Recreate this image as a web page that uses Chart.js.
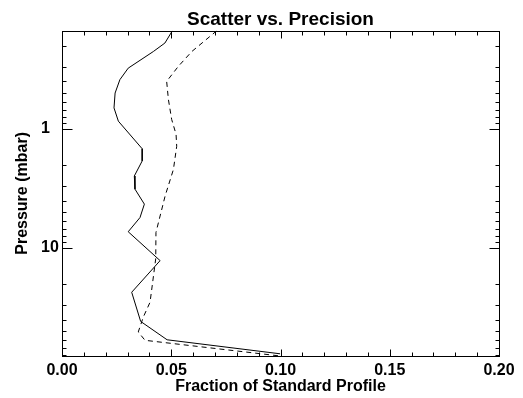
<!DOCTYPE html>
<html>
<head>
<meta charset="utf-8">
<script src="https://cdn.jsdelivr.net/npm/chart.js@4/dist/chart.umd.min.js"></script>
<style>
  html, body { margin: 0; background: #fff; }
  canvas { display: block; }
</style>
</head>
<body>
<canvas id="chart" width="523" height="398"></canvas>
<script>
// values: fraction of standard profile vs pressure (mbar)
const SCATTER_P    = [0.15, 0.19, 0.224, 0.309, 0.386, 0.50, 0.667, 0.862, 1.47, 1.86, 2.49, 3.21, 4.29, 5.56, 7.32, 12.8, 23.6, 41.5, 59.2, 77.6];
const SCATTER_FRAC = [0.0505, 0.0471, 0.0418, 0.0303, 0.0265, 0.0243, 0.0238, 0.0258, 0.0367, 0.0367, 0.0331, 0.0334, 0.0377, 0.0357, 0.0303, 0.0449, 0.0319, 0.0360, 0.0481, 0.0998];

const PRECISION_P    = [0.15, 0.224, 0.299, 0.399, 0.567, 0.834, 1.11, 1.40, 2.19, 3.66, 7.42, 12.3, 28.6, 38.2, 50.9, 59.8, 81];
const PRECISION_FRAC = [0.0708, 0.0594, 0.0532, 0.0479, 0.0487, 0.0502, 0.0522, 0.0525, 0.0510, 0.0472, 0.0430, 0.0429, 0.0403, 0.0372, 0.0349, 0.0380, 0.0998];

// axis ticks
const X_MAJOR = [0, 0.05, 0.10, 0.15, 0.20];
const X_MINOR = [0.01, 0.02, 0.03, 0.04, 0.06, 0.07, 0.08, 0.09, 0.11, 0.12, 0.13, 0.14, 0.16, 0.17, 0.18, 0.19];
const Y_MAJOR = [1, 10];
const Y_MINOR = [0.2, 0.3, 0.4, 0.5, 0.6, 0.7, 0.8, 0.9, 2, 3, 4, 5, 6, 7, 8, 9, 20, 30, 40, 50, 60, 70, 80];

const FONT = "'Liberation Sans', Arial, Helvetica, sans-serif";

function toPoints(xs, ps) { return xs.map((x, i) => ({ x, y: ps[i] })); }

// IDL-style box: closed frame, ticks pointing inward on all four sides
const idlAxes = {
  id: "idlAxes",
  afterLayout(chart) {
    // title centred over the plot box rather than the whole canvas
    const a = chart.chartArea, t = chart.titleBlock;
    t.left = a.left; t.right = a.right; t.width = a.right - a.left;
  },
  afterDatasetsDraw(chart) {
    const { ctx, chartArea: a, scales: { x, y } } = chart;
    const L = Math.round(a.left) + 0.5, R = Math.round(a.right) + 0.5;
    const T = Math.round(a.top) + 0.5, B = Math.round(a.bottom) + 0.5;
    ctx.save();
    ctx.strokeStyle = "#000";
    ctx.lineWidth = 1;
    ctx.strokeRect(L, T, R - L, B - T);
    const seg = (x1, y1, x2, y2) => { ctx.beginPath(); ctx.moveTo(x1, y1); ctx.lineTo(x2, y2); ctx.stroke(); };
    const xt = (vals, len) => vals.forEach((v) => {
      const px = Math.round(x.getPixelForValue(v)) + 0.5;
      seg(px, B, px, B - len); seg(px, T, px, T + len);
    });
    const yt = (vals, len) => vals.forEach((v) => {
      const py = Math.round(y.getPixelForValue(v)) + 0.5;
      seg(L, py, L + len, py); seg(R, py, R - len, py);
    });
    xt(X_MAJOR, 7); xt(X_MINOR, 4);
    yt(Y_MAJOR, 10); yt(Y_MINOR, 4);
    ctx.restore();
  },
};

new Chart(document.getElementById("chart"), {
  type: "scatter",
  data: {
    datasets: [
      { label: "Scatter", data: toPoints(SCATTER_FRAC, SCATTER_P), showLine: true,
        borderColor: "#000", borderWidth: 1, pointRadius: 0, tension: 0 },
      { label: "Precision", data: toPoints(PRECISION_FRAC, PRECISION_P), showLine: true,
        borderColor: "#000", borderWidth: 1, borderDash: [5, 4], pointRadius: 0, tension: 0 },
    ],
  },
  options: {
    responsive: false, animation: false,
    layout: { padding: { left: 0, right: 24, top: 0, bottom: 0 } },
    plugins: {
      legend: { display: false },
      tooltip: { enabled: false },
      title: {
        display: true, text: "Scatter vs. Precision", color: "#000",
        font: { family: FONT, size: 19, weight: "bold", lineHeight: 1.2 },
        padding: { top: 8, bottom: 0 },
      },
    },
    scales: {
      x: {
        type: "linear", position: "bottom", min: 0, max: 0.2,
        grid: { display: false, drawTicks: false, tickLength: 0 }, border: { display: false },
        ticks: { stepSize: 0.05, autoSkip: false, maxRotation: 0, padding: 5,
                 color: "#000", font: { family: FONT, size: 16, weight: "bold" },
                 callback: (v) => v.toFixed(2) },
        title: { display: true, text: "Fraction of Standard Profile", color: "#000",
                 font: { family: FONT, size: 16, weight: "bold", lineHeight: 1.2 },
                 padding: { top: 0, bottom: 1.5 } },
        afterFit: (s) => { s.height = 42; },
      },
      y: {
        type: "logarithmic", position: "left", reverse: true, min: 0.15, max: 81, weight: 0,
        grid: { display: false, drawTicks: false, tickLength: 0 }, border: { display: false },
        ticks: { autoSkip: false, crossAlign: "far", padding: 0,
                 color: "#000", font: { family: FONT, size: 16, weight: "bold" },
                 callback: (v) => (Y_MAJOR.includes(v) ? String(v) : null) },
        afterFit: (s) => { s.width = 21; },
      },
      // carries only the y title so the tick labels can sit left-aligned
      yTitle: {
        type: "linear", position: "left", weight: 10,
        grid: { display: false }, border: { display: false }, ticks: { display: false },
        title: { display: true, text: "Pressure (mbar)", color: "#000",
                 font: { family: FONT, size: 16, weight: "bold", lineHeight: 1.2 },
                 padding: { top: 13, bottom: 0 } },
        afterFit: (s) => { s.width = 41; },
      },
    },
  },
  plugins: [idlAxes],
});
</script>
</body>
</html>
